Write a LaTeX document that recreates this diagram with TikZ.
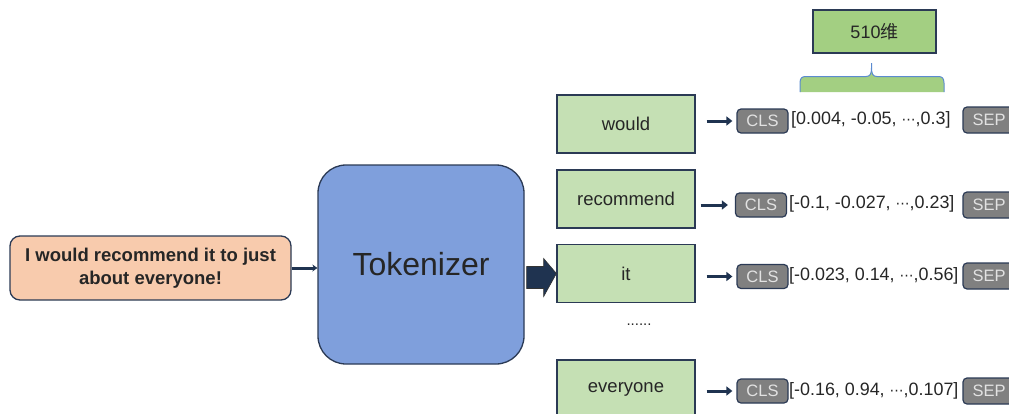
\documentclass[tikz,border=0pt]{standalone}
\usepackage{fontspec}
\setmainfont{Liberation Sans}
\newfontfamily\cjk{Noto Sans CJK SC}
\newfontfamily\dvs{DejaVu Sans}
\usetikzlibrary{arrows.meta,calc}
\definecolor{navy}{HTML}{2B3A55}
\definecolor{darrow}{HTML}{1F3350}
\definecolor{peach}{HTML}{F8CBAD}
\definecolor{tokblue}{HTML}{7F9FDC}
\definecolor{lgreen}{HTML}{C5E0B4}
\definecolor{mgreen}{HTML}{A3CF82}
\definecolor{clsgray}{HTML}{808080}
\definecolor{clstext}{HTML}{E2E2E2}
\definecolor{txt}{HTML}{262626}
\definecolor{braceblue}{HTML}{5B8BD0}
\newcommand{\mdots}{{\dvs\fontsize{14}{14}\selectfont ⋯}}
\tikzset{
  inbox/.style={draw=navy, line width=1.3pt, fill=peach, rounded corners=10pt, minimum width=281pt, minimum height=64pt, align=center, font=\bfseries\fontsize{18.5}{23}\selectfont, text=txt, inner sep=0pt},
  tokbox/.style={draw=navy, line width=1.3pt, fill=tokblue, rounded corners=28pt, minimum width=206pt, minimum height=199pt, font=\fontsize{32}{36}\selectfont, text=txt, inner sep=0pt},
  wordbox/.style={draw=navy, line width=1.2pt, fill=lgreen, minimum width=138pt, minimum height=58pt, font=\fontsize{18.5}{20}\selectfont, text=txt, inner sep=0pt},
  dimbox/.style={draw=navy, line width=1.2pt, fill=mgreen, minimum width=123pt, minimum height=43pt, font=\fontsize{18}{20}\selectfont, text=txt, inner sep=0pt},
  tagbox/.style={draw=navy, line width=1.2pt, fill=clsgray, rounded corners=4pt, minimum width=51pt, minimum height=24pt, font=\fontsize{16.5}{18}\selectfont, text=clstext, inner sep=0pt},
  vectext/.style={anchor=west, font=\fontsize{17.9}{20}\selectfont, text=txt, inner sep=0pt},
  smallarrow/.style={draw=darrow, line width=3pt, -{Triangle[length=6pt,width=9pt]}},
  thinarrow/.style={draw=darrow, line width=3pt, -{Stealth[length=5pt,width=7pt]}},
  dotstext/.style={font=\fontsize{15}{16}\selectfont, text=txt, inner sep=0pt},
}
\begin{document}
\begin{tikzpicture}[x=1pt,y=-1pt]
\useasboundingbox (0,0) rectangle (1009,413);
\clip (0,0) rectangle (1009,413);
% input and tokenizer
\node[inbox] (in) at (150.5,268) {I would recommend it to just\\about everyone!};
\node[tokbox] (tok) at (421,264.5) {Tokenizer};
\draw[thinarrow] (in.east) -- (in.east -| tok.west);
% word boxes
\node[wordbox] (w1) at (626,124) {would};
\node[wordbox] (w2) at (626,199) {recommend};
\node[wordbox] (w3) at (626,273.5) {it};
\node[wordbox] (w4) at (626,389) {everyone};
\node[dotstext] (dots) at (639,325) {......};
% block arrow tokenizer -> it
\fill[darrow, draw=black!80, line width=0.6pt]
  ($(tok.east |- w3.west)+(2,-7)$) -- ++(17,0) -- ++(0,-8) -- ($(w3.west)+(0,0)$) -- ($(tok.east |- w3.west)+(19,23)$) -- ++(0,-8) -- ++(-17,0) -- cycle;
% CLS and SEP boxes
\node[tagbox] (c1) at (762.5,121) {CLS};
\node[tagbox] (c2) at (761,205) {CLS};
\node[tagbox] (c3) at (762.5,276.5) {CLS};
\node[tagbox] (c4) at (762.5,391) {CLS};
\node[tagbox, minimum width=52pt, minimum height=26pt] (s1) at (989,120) {SEP};
\node[tagbox, minimum width=52pt, minimum height=26pt] (s2) at (989,205) {SEP};
\node[tagbox, minimum width=52pt, minimum height=26pt] (s3) at (989,276) {SEP};
\node[tagbox, minimum width=52pt, minimum height=26pt] (s4) at (989,391) {SEP};
% vectors
\node[vectext] (v1) at (791,120) {[0.004, -0.05, \mdots,0.3]};
\node[vectext] (v2) at (789,204) {[-0.1, -0.027, \mdots,0.23]};
\node[vectext] (v3) at (789,276) {[-0.023, 0.14, \mdots,0.56]};
\node[vectext] (v4) at (789,391) {[-0.16, 0.94, \mdots,0.107]};
% small arrows
\draw[smallarrow, shorten <=11pt, shorten >=4pt] (w1.east |- c1.west) -- (c1.west);
\draw[smallarrow, shorten <=5pt, shorten >=7pt] (w2.east |- c2.west) -- (c2.west);
\draw[smallarrow, shorten <=11pt, shorten >=4pt] (w3.east |- c3.west) -- (c3.west);
\draw[smallarrow, shorten <=11pt, shorten >=4pt] (w4.east |- c4.west) -- (c4.west);
% 510 dim box and brace
\node[dimbox] (dim) at (874.5,31.5) {510{\cjk 维}};
\fill[mgreen] (800,92) -- (800,83) .. controls (800,78) and (802,76.5) .. (806,76.5) -- (866,76.5) .. controls (870,76.5) and (871.5,74) .. (871.5,68) .. controls (871.5,74) and (873,76.5) .. (877,76.5) -- (938,76.5) .. controls (942,76.5) and (944,78) .. (944,83) -- (944,92) -- cycle;
\draw[braceblue, line width=1pt] (800,92) -- (800,83) .. controls (800,78) and (802,76.5) .. (806,76.5) -- (866,76.5) .. controls (870,76.5) and (871.5,74) .. (871.5,68) -- (871.5,63);
\draw[braceblue, line width=1pt] (871.5,68) .. controls (871.5,74) and (873,76.5) .. (877,76.5) -- (938,76.5) .. controls (942,76.5) and (944,78) .. (944,83) -- (944,92);
\end{tikzpicture}
\end{document}
